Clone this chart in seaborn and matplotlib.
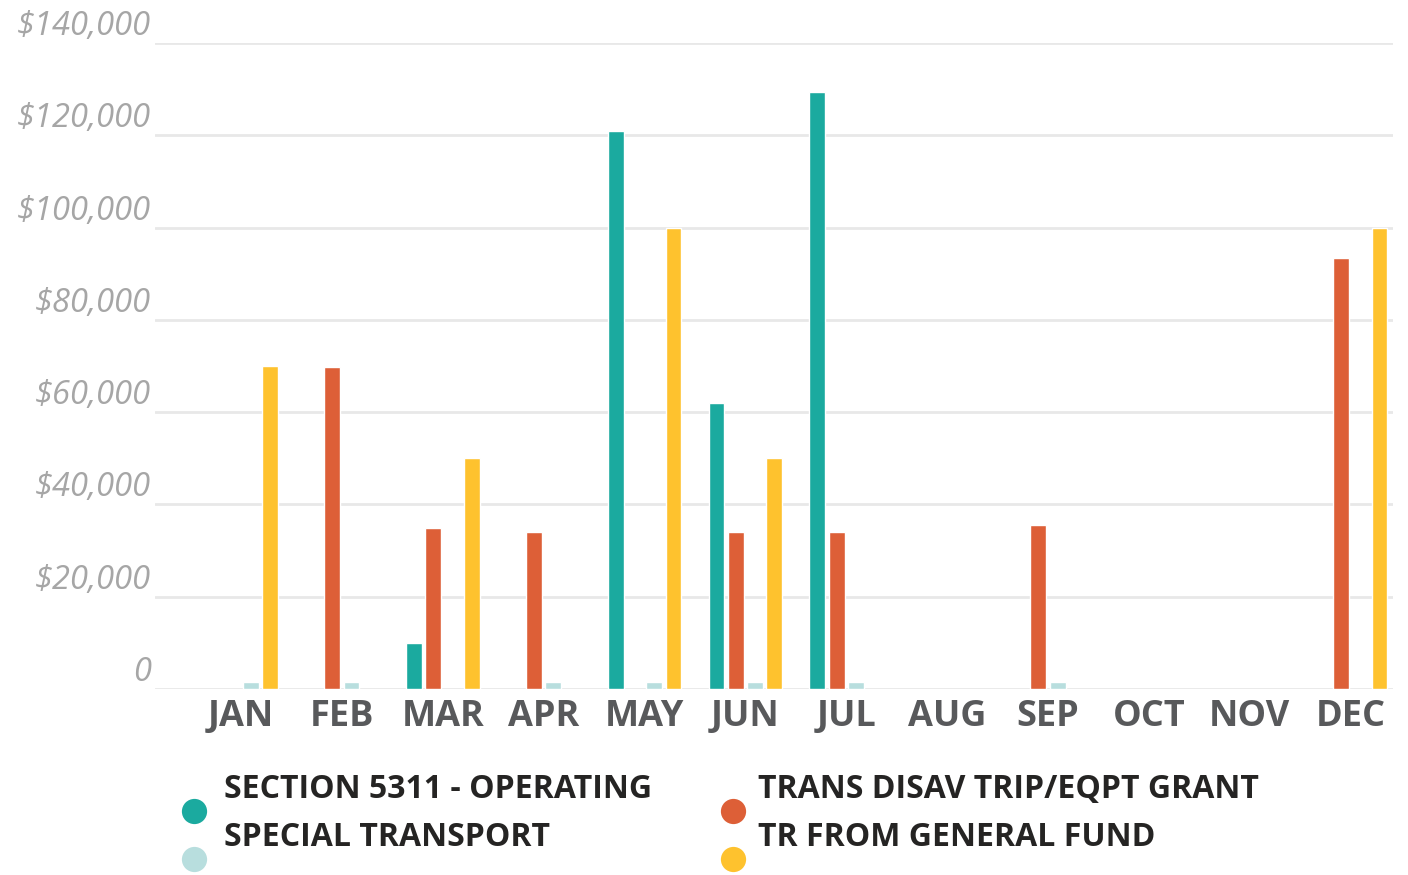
import numpy as np
import pandas as pd
import seaborn as sns
import matplotlib.pyplot as plt
from matplotlib.ticker import FuncFormatter
from matplotlib.transforms import ScaledTranslation

months = ["JAN", "FEB", "MAR", "APR", "MAY", "JUN", "JUL", "AUG", "SEP", "OCT", "NOV", "DEC"]
series = ["SECTION 5311 - OPERATING", "TRANS DISAV TRIP/EQPT GRANT",
          "SPECIAL TRANSPORT", "TR FROM GENERAL FUND"]
nan = np.nan
section_5311 = [nan, nan, 10000, nan, 121000, 62000, 129400, nan, nan, nan, nan, nan]
trans_disav = [nan, 69800, 35000, 34000, nan, 34000, 34000, nan, 35500, nan, nan, 93400]
special_transport = [1500, 1500, nan, 1500, 1500, 1500, 1500, nan, 1500, nan, nan, nan]
general_fund = [70000, nan, 50000, nan, 100000, 50000, nan, nan, nan, nan, nan, 100000]
colors = ["#1BAA9F", "#DD5F37", "#B8DEDE", "#FEC22E"]

values = [section_5311, trans_disav, special_transport, general_fund]
rows = []
for name, vals in zip(series, values):
    for m, v in zip(months, vals):
        rows.append({"month": m, "series": name, "value": v})
df = pd.DataFrame(rows)

sns.set_theme(style="white")
plt.rcParams["font.family"] = ["Open Sans", "DejaVu Sans"]

fig = plt.figure(figsize=(14.08, 8.75), dpi=100)
ax = fig.add_axes([155 / 1408, 1 - 689 / 875, (1393 - 155) / 1408, (689 - 43) / 875])

sns.barplot(data=df, x="month", y="value", hue="series", order=months, hue_order=series,
            palette=dict(zip(series, colors)), width=0.765, gap=0.18, saturation=1,
            errorbar=None, legend=False, ax=ax)

ax.set_xlim(-0.853, 11.42)
ax.set_ylim(0, 140000)
ax.set_yticks(np.arange(0, 140001, 20000))
ax.yaxis.set_major_formatter(FuncFormatter(lambda v, p: "0" if v == 0 else f"${int(v):,}"))
ax.grid(axis="y", color="#E8E8E8", linewidth=2)
ax.set_axisbelow(True)
for s in ax.spines.values():
    s.set_visible(False)
ax.set_xlabel("")
ax.set_ylabel("")
ax.tick_params(axis="x", length=0, pad=7, labelsize=26, labelcolor="#58595B")
ax.tick_params(axis="y", length=0, pad=3, labelsize=23.5, labelcolor="#A6A6A6")
for lab in ax.get_xticklabels():
    lab.set_fontweight("bold")
offset = ScaledTranslation(0, 8 / 100, fig.dpi_scale_trans)
for tick in ax.yaxis.get_major_ticks():
    tick.label1.set_fontstyle("italic")
    tick.label1.set_verticalalignment("baseline")
    tick.label1.set_transform(tick.label1.get_transform() + offset)

# legend, row by row in two columns, markers sit a little below the text
leg_x = [(194, 224), (733, 758)]
leg_y = [(811, 798), (859, 846)]
for i, (name, col) in enumerate(zip(series, colors)):
    r, c = divmod(i, 2)
    mx, tx = leg_x[c]
    my, ty = leg_y[r]
    ax.scatter([mx / 1408], [1 - my / 875], s=330, color=col, transform=fig.transFigure,
               clip_on=False, linewidths=0)
    fig.text(tx / 1408, 1 - ty / 875, name, fontsize=23, fontweight="bold",
             color="#252423", va="baseline", ha="left")

fig.savefig("out.png", dpi=100)
